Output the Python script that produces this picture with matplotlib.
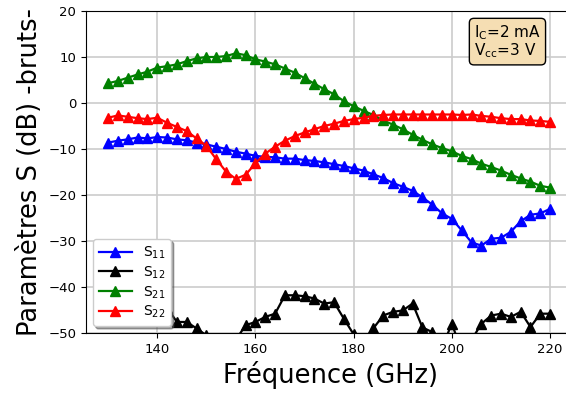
import numpy as np
import matplotlib
matplotlib.use("Agg")
import matplotlib.pyplot as plt

# Fréquence (GHz)
freq = np.arange(130, 222, 2)

# Paramètres S en dB
s11 = [-8.6, -8.2, -7.9, -7.5, -7.7, -7.4, -7.5, -7.9, -8.1, -8.6,
       -9.0, -9.5, -10.0, -10.6, -11.0, -11.5, -11.7, -11.8, -12.1, -12.1,
       -12.4, -12.6, -12.9, -13.3, -13.7, -14.2, -14.7, -15.5, -16.3, -17.4,
       -18.2, -19.1, -20.5, -22.1, -24.0, -25.2, -27.7, -30.3, -31.0, -29.5,
       -29.3, -28.0, -25.7, -24.3, -24.0, -23.0]
s12 = [-40.4, -42.5, -44.4, -44.7, -41.1, -41.8, -44.5, -47.6, -47.6, -49.0,
       -50.5, -53.0, -55.0, -51.5, -48.3, -47.6, -46.5, -45.8, -41.8, -41.8,
       -42.0, -42.5, -43.6, -43.3, -46.9, -50.3, -53.0, -49.0, -46.2, -45.4,
       -45.1, -43.6, -48.8, -49.8, -53.0, -48.0, -54.0, -51.5, -48.0, -46.2,
       -45.8, -46.5, -45.4, -48.7, -45.8, -45.8]
s21 = [4.3, 4.8, 5.5, 6.2, 6.8, 7.7, 8.0, 8.4, 9.1, 9.7,
       10.0, 10.0, 10.2, 10.8, 10.4, 9.5, 9.0, 8.4, 7.5, 6.6,
       5.4, 4.2, 3.0, 1.9, 0.4, -0.7, -1.7, -2.6, -3.8, -4.7,
       -5.7, -6.9, -8.0, -9.0, -9.8, -10.5, -11.5, -12.2, -13.2, -13.9,
       -14.7, -15.6, -16.4, -17.1, -18.0, -18.4]
s22 = [-3.2, -2.7, -3.0, -3.3, -3.5, -3.2, -4.3, -5.2, -6.1, -7.7,
       -9.3, -12.2, -14.9, -16.5, -15.6, -13.1, -11.0, -9.5, -8.2, -7.2,
       -6.4, -5.7, -5.0, -4.5, -3.9, -3.5, -3.2, -2.8, -2.6, -2.5,
       -2.5, -2.5, -2.5, -2.5, -2.5, -2.5, -2.6, -2.5, -2.8, -3.0,
       -3.3, -3.5, -3.5, -3.8, -3.9, -4.1]

fig = plt.figure(figsize=(5.66, 3.96), dpi=100)
ax = fig.add_axes([86 / 566, 63 / 396, 488.7 / 566, 322 / 396])

ax.plot(freq, s11, '-^', color='blue', lw=1.6, ms=6.5, label=r'S$_{11}$')
ax.plot(freq, s12, '-^', color='black', lw=1.6, ms=6.5, label=r'S$_{12}$')
ax.plot(freq, s21, '-^', color='green', lw=1.6, ms=6.5, label=r'S$_{21}$')
ax.plot(freq, s22, '-^', color='red', lw=1.6, ms=6.5, label=r'S$_{22}$')

ax.set_xlim(125.5, 225)
ax.set_ylim(-50, 20)
ax.set_xticks([140, 160, 180, 200, 220])
ax.set_yticks(np.arange(-50, 21, 10))
ax.grid(True, color='0.8', lw=1.2)
ax.set_axisbelow(True)
ax.tick_params(labelsize=9.5)
ax.spines['right'].set_visible(False)

ax.set_xlabel("Fréquence (GHz)", fontsize=18.5)
ax.set_ylabel("Paramètres S (dB) -bruts-", fontsize=18.5)

ax.legend(loc='lower left', fontsize=10, shadow=True, numpoints=1,
          handlelength=2.4, labelspacing=0.25, borderaxespad=0.5)

props = dict(boxstyle='round', facecolor='wheat')
ax.text(0.931, 0.963, "I$_\\mathrm{C}$=2 mA\nV$_\\mathrm{cc}$=3 V",
        transform=ax.transAxes, ha='right', va='top', fontsize=11,
        linespacing=1.0, multialignment='left', bbox=props)

fig.savefig("out.png", dpi=100)
